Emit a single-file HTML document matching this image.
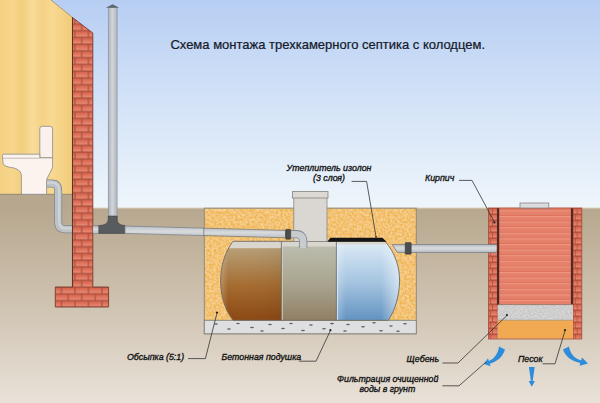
<!DOCTYPE html>
<html lang="ru">
<head>
<meta charset="utf-8">
<title>Схема монтажа трехкамерного септика с колодцем</title>
<style>
html,body{margin:0;padding:0;background:#e8e1d8;}
body{width:600px;height:403px;overflow:hidden;}
svg{display:block;}
text{font-family:"Liberation Sans",sans-serif;}
.title{font-size:13px;fill:#141a2a;stroke:#141a2a;stroke-width:0.22px;}
.lbl{font-size:8.8px;font-style:italic;fill:#151515;stroke:#151515;stroke-width:0.35px;}
.lead{fill:none;stroke:#333;stroke-width:0.8;}
.dot{fill:#222;}
</style>
</head>
<body>
<svg width="600" height="403" viewBox="0 0 600 403">
<defs>
  <linearGradient id="sky" x1="0" y1="0" x2="0" y2="1">
    <stop offset="0" stop-color="#b7cef3"/>
    <stop offset="0.45" stop-color="#d1e1f7"/>
    <stop offset="1" stop-color="#eff6fb"/>
  </linearGradient>
  <linearGradient id="ground" x1="0" y1="0" x2="0" y2="1">
    <stop offset="0" stop-color="#b7a78e"/>
    <stop offset="0.5" stop-color="#cfc3b1"/>
    <stop offset="1" stop-color="#e9e2d9"/>
  </linearGradient>
  <linearGradient id="wood" x1="0" y1="0" x2="1" y2="0">
    <stop offset="0" stop-color="#f4d082"/>
    <stop offset="0.18" stop-color="#f6d68c"/>
    <stop offset="0.3" stop-color="#f3ce7e"/>
    <stop offset="0.45" stop-color="#f8dc98"/>
    <stop offset="0.58" stop-color="#f5d286"/>
    <stop offset="0.72" stop-color="#f7d990"/>
    <stop offset="0.86" stop-color="#f5d286"/>
    <stop offset="1" stop-color="#f2cb7a"/>
  </linearGradient>
  <linearGradient id="pipeV" x1="0" y1="0" x2="1" y2="0">
    <stop offset="0" stop-color="#a9b0bc"/>
    <stop offset="0.45" stop-color="#d3d6d8"/>
    <stop offset="1" stop-color="#b0b6c0"/>
  </linearGradient>
  <linearGradient id="pipeH" x1="0" y1="0" x2="0" y2="1">
    <stop offset="0" stop-color="#bac0c6"/>
    <stop offset="0.45" stop-color="#d8dbde"/>
    <stop offset="1" stop-color="#bbc1c7"/>
  </linearGradient>
  <linearGradient id="ch1" x1="0" y1="0" x2="0" y2="1">
    <stop offset="0" stop-color="#b89f76"/>
    <stop offset="0.5" stop-color="#a56c30"/>
    <stop offset="1" stop-color="#8a4510"/>
  </linearGradient>
  <linearGradient id="ch2" x1="0" y1="0" x2="0" y2="1">
    <stop offset="0" stop-color="#bbbcad"/>
    <stop offset="0.5" stop-color="#a9a48e"/>
    <stop offset="1" stop-color="#8f7d62"/>
  </linearGradient>
  <linearGradient id="ch3" x1="0" y1="0" x2="0" y2="1">
    <stop offset="0" stop-color="#d9e8f5"/>
    <stop offset="0.5" stop-color="#a3c3df"/>
    <stop offset="1" stop-color="#5f90bf"/>
  </linearGradient>
  <linearGradient id="ch3hl" x1="0" y1="0" x2="1" y2="0">
    <stop offset="0" stop-color="#ffffff" stop-opacity="0.25"/>
    <stop offset="0.15" stop-color="#ffffff" stop-opacity="0"/>
    <stop offset="0.7" stop-color="#ffffff" stop-opacity="0"/>
    <stop offset="1" stop-color="#ffffff" stop-opacity="0.55"/>
  </linearGradient>
  <linearGradient id="ch1hl" x1="0" y1="0" x2="1" y2="0">
    <stop offset="0" stop-color="#fff" stop-opacity="0.3"/>
    <stop offset="0.16" stop-color="#fff" stop-opacity="0"/>
    <stop offset="1" stop-color="#000" stop-opacity="0.05"/>
  </linearGradient>
  <linearGradient id="brickG" x1="0" y1="0" x2="0" y2="1">
    <stop offset="0" stop-color="#d5614b"/>
    <stop offset="1" stop-color="#e98b75"/>
  </linearGradient>
  <pattern id="brick" patternUnits="userSpaceOnUse" x="68.2" y="280.25" width="13.5" height="13.5">
    <rect x="0" y="0" width="13.5" height="13.5" fill="#a9503f"/>
    <rect x="0.6" y="0.7" width="12.3" height="5.5" fill="url(#brickG)"/>
    <rect x="-6.15" y="7.45" width="12.3" height="5.5" fill="url(#brickG)"/>
    <rect x="7.35" y="7.45" width="12.3" height="5.5" fill="url(#brickG)"/>
  </pattern>
  <pattern id="wellbrick" patternUnits="userSpaceOnUse" x="488.4" y="208" width="9.2" height="12">
    <rect width="9.2" height="12" fill="#a94a38"/>
    <rect x="0.5" y="0.6" width="3.4" height="4.9" fill="url(#brickG)"/>
    <rect x="4.6" y="0.6" width="4.2" height="4.9" fill="url(#brickG)"/>
    <rect x="0.5" y="6.6" width="1.6" height="4.9" fill="url(#brickG)"/>
    <rect x="2.8" y="6.6" width="6" height="4.9" fill="url(#brickG)"/>
  </pattern>
  <pattern id="wellin" patternUnits="userSpaceOnUse" x="498" y="210.4" width="80" height="5.6">
    <rect width="80" height="5.6" fill="#e5806a"/>
    <rect y="0" width="80" height="1.1" fill="#ee9680"/>
    <rect y="4.6" width="80" height="1" fill="#dd7560"/>
  </pattern>
  <filter id="noise" x="0" y="0" width="1" height="1">
    <feTurbulence type="fractalNoise" baseFrequency="0.42" numOctaves="2" seed="3" result="n"/>
    <feColorMatrix in="n" type="matrix" values="0 0 0 0 0.98  0 0 0 0 0.82  0 0 0 0 0.5  0 0 0 1.1 -0.3" result="c"/>
    <feComposite in="c" in2="SourceGraphic" operator="in" result="cc"/>
    <feMerge><feMergeNode in="SourceGraphic"/><feMergeNode in="cc"/></feMerge>
  </filter>
  <filter id="gnoise" x="0" y="0" width="1" height="1">
    <feTurbulence type="fractalNoise" baseFrequency="0.6" numOctaves="2" seed="8" result="n"/>
    <feColorMatrix in="n" type="matrix" values="0 0 0 0 0.86  0 0 0 0 0.86  0 0 0 0 0.86  0 0 0 1.0 -0.3" result="c"/>
    <feComposite in="c" in2="SourceGraphic" operator="in" result="cc"/>
    <feMerge><feMergeNode in="SourceGraphic"/><feMergeNode in="cc"/></feMerge>
  </filter>
</defs>

<!-- sky & ground -->
<rect x="0" y="0" width="600" height="209" fill="url(#sky)"/>
<rect x="0" y="207.5" width="600" height="195.5" fill="url(#ground)"/>
<rect x="0" y="194" width="73" height="14" fill="#b7a78e"/>
<rect x="93" y="207.2" width="507" height="1.2" fill="#f4f1ea" opacity="0.8"/>

<!-- house wall (wood) -->
<polygon points="0,0 51,0 72.5,17.5 72.5,194.3 0,194.3" fill="url(#wood)"/>
<line x1="51" y1="0" x2="72.5" y2="17.5" stroke="#9c8b66" stroke-width="0.8"/>
<line x1="0" y1="194.3" x2="72.5" y2="194.3" stroke="#8d8370" stroke-width="0.9"/>

<!-- toilet drain pipe (behind brick) -->
<path d="M46.6,183.5 H52 Q58.2,183.5 58.2,191 V222 Q58.2,229.3 66,229.3 H99" fill="none" stroke="#838b91" stroke-width="8"/>
<path d="M46.6,183.5 H52 Q58.2,183.5 58.2,191 V222 Q58.2,229.3 66,229.3 H99" fill="none" stroke="#bcc2c6" stroke-width="6.4"/>
<path d="M46.6,182.6 H52 Q59.2,182.6 59.2,191 V222 Q59.2,228.4 66,228.4 H99" fill="none" stroke="#d3d7d9" stroke-width="2.2" opacity="0.8"/>

<!-- brick foundation wall -->
<polygon points="72.5,17.5 92.8,33 92.8,287 108.6,287 108.6,307 55.3,307 55.3,287 72.5,287" fill="url(#brick)" stroke="#7a3a2c" stroke-width="0.9"/>
<line x1="72.5" y1="17.5" x2="72.5" y2="287" stroke="#5e3424" stroke-width="1.1"/>

<!-- pipe stub right of wall -->
<rect x="93.2" y="226" width="6" height="7.4" fill="url(#pipeH)"/>
<line x1="93.2" y1="225.8" x2="99" y2="225.8" stroke="#868d93" stroke-width="0.8"/>
<line x1="93.2" y1="233.5" x2="99" y2="233.5" stroke="#868d93" stroke-width="0.8"/>

<!-- vent pipe -->
<rect x="108.3" y="7.5" width="8.8" height="212" fill="url(#pipeV)" stroke="#8a92a0" stroke-width="0.7"/>
<polygon points="105.8,7.8 119.2,7.8 112.6,4.3" fill="#5d6672"/>

<!-- tee fitting -->
<path d="M108.2,216 H117.2 V220 Q117.6,225.2 125,225.6 V233.4 H98.8 V225.6 Q107.8,225.2 108.2,220 Z" fill="#595c5f" stroke="#3f4245" stroke-width="0.6"/>

<!-- main pipe to tank -->
<polygon points="125,226 285.5,230.4 285.5,237.8 125,233.4" fill="url(#pipeH)" stroke="#7d8489" stroke-width="0.8"/>

<!-- toilet -->
<path d="M39.8,157.8 V128.8 Q39.8,126.3 42.3,126.3 H50.1 Q52.6,126.3 52.6,128.8 V157.8 Z" fill="#fbf0ec" stroke="#8a8a8a" stroke-width="0.8"/>
<path d="M2.4,155.6 Q2.4,154.2 4,154.2 H39.8 V157.8 H52.6 V167.6 L46.6,179.5 V194.3 H21.4 V176 Q21.4,170 14,168 Q3,166.6 3,163 Z" fill="#fcf3ef" stroke="#8a8a8a" stroke-width="0.8"/>
<path d="M2.6,158.2 H39.8" fill="none" stroke="#a7a09c" stroke-width="0.7"/>

<!-- pit -->
<rect x="204.3" y="208.2" width="212" height="112" fill="#f0b450" filter="url(#noise)"/>
<rect x="204.3" y="208.2" width="212" height="125.6" fill="none" stroke="#8e8a80" stroke-width="1"/>
<!-- main pipe inside pit (redraw over sand) -->
<polygon points="203.8,228.16 285.5,230.4 285.5,237.8 203.8,235.56" fill="url(#pipeH)" stroke="#7d7a6c" stroke-width="0.8"/>
<!-- concrete cushion -->
<rect x="204.3" y="320.3" width="212" height="13.5" fill="#dedfe0" stroke="#85837c" stroke-width="0.9"/>
<g fill="#5f6266">
  <ellipse cx="216" cy="324" rx="2" ry="0.8"/><ellipse cx="229" cy="329" rx="1.9" ry="0.8"/>
  <ellipse cx="238" cy="323.5" rx="1.8" ry="0.75"/><ellipse cx="252" cy="327.5" rx="2" ry="0.8"/>
  <ellipse cx="262" cy="331" rx="1.9" ry="0.7"/><ellipse cx="270" cy="324.5" rx="1.9" ry="0.8"/>
  <ellipse cx="283" cy="328.5" rx="2" ry="0.8"/><ellipse cx="291" cy="323.4" rx="1.8" ry="0.75"/>
  <ellipse cx="303" cy="330.5" rx="2" ry="0.8"/><ellipse cx="311" cy="325" rx="1.9" ry="0.8"/>
  <ellipse cx="324" cy="328.8" rx="1.9" ry="0.8"/><ellipse cx="332" cy="323.6" rx="2" ry="0.8"/>
  <ellipse cx="345" cy="331" rx="1.9" ry="0.8"/><ellipse cx="348" cy="324.5" rx="1.9" ry="0.8"/>
  <ellipse cx="363" cy="326.8" rx="2" ry="0.8"/><ellipse cx="374" cy="322.8" rx="1.9" ry="0.8"/>
  <ellipse cx="381" cy="330.8" rx="2" ry="0.8"/><ellipse cx="391" cy="326" rx="1.9" ry="0.8"/>
  <ellipse cx="398" cy="331.2" rx="1.9" ry="0.8"/><ellipse cx="405" cy="323.8" rx="2" ry="0.8"/>
</g>

<!-- septic tank -->
<clipPath id="tankclip">
  <path d="M233,241.3 H385 C395,252 400,268 399.6,282 C399,297 395,310 388.4,320.3 H233 C225,310 220.6,296 220.6,281 C220.6,266 225,252 233,241.3 Z"/>
</clipPath>
<g clip-path="url(#tankclip)">
  <rect x="218" y="240" width="185" height="82" fill="#d9d6cf"/>
  <rect x="218" y="248.2" width="63.4" height="74" fill="url(#ch1)"/>
  <rect x="218" y="248.2" width="63.4" height="74" fill="url(#ch1hl)"/>
  <rect x="281.4" y="246.5" width="55" height="76" fill="url(#ch2)"/>
  <rect x="336.4" y="244.5" width="68" height="78" fill="url(#ch3)"/>
  <rect x="336.4" y="244.5" width="64" height="78" fill="url(#ch3hl)"/>
  <line x1="281.4" y1="241" x2="281.4" y2="321" stroke="#6f6a5c" stroke-width="0.9"/>
  <line x1="282.4" y1="241" x2="282.4" y2="321" stroke="#d6d3c8" stroke-width="0.8"/>
  <line x1="336.4" y1="241" x2="336.4" y2="321" stroke="#5f6a72" stroke-width="0.9"/>
  <line x1="337.4" y1="241" x2="337.4" y2="321" stroke="#e6eef5" stroke-width="0.8"/>
</g>
<path d="M233,241.3 H385 C395,252 400,268 399.6,282 C399,297 395,310 388.4,320.3 H233 C225,310 220.6,296 220.6,281 C220.6,266 225,252 233,241.3 Z" fill="none" stroke="#6e6a60" stroke-width="0.9"/>

<!-- insulation -->
<polygon points="327.4,241.7 330.4,237.7 382.4,237.7 386.6,241.7" fill="#141414"/>

<!-- neck -->
<rect x="293.8" y="197.6" width="33.2" height="43.8" fill="#dad7d2" stroke="#8a867e" stroke-width="0.8"/>
<rect x="292.4" y="191.6" width="35.6" height="6.4" fill="#dcd8d2" stroke="#86827a" stroke-width="0.8"/>
<!-- inlet elbow -->
<path d="M290.6,234.2 H296.4 Q303.2,234.2 303.2,241.5 V248.2" fill="none" stroke="#80878c" stroke-width="8.2"/>
<path d="M290.6,234.2 H296.4 Q303.2,234.2 303.2,241.5 V248.6" fill="none" stroke="#c8ccce" stroke-width="6.6"/>
<rect x="285.7" y="229.3" width="5" height="10" rx="0.8" fill="#4b4d4f" stroke="#2f3132" stroke-width="0.5"/>

<!-- outlet pipe -->
<path d="M392.2,244.6 H497 V252.4 H397.4 Z" fill="url(#pipeH)" stroke="#747c82" stroke-width="0.8"/>
<rect x="405.2" y="242.6" width="6" height="11.6" rx="0.8" fill="#4b4d4f" stroke="#2f3132" stroke-width="0.5"/>

<!-- well -->
<rect x="488.4" y="208" width="9.2" height="131" fill="url(#wellbrick)"/>
<g transform="translate(84.6,0)"><rect x="488.4" y="208" width="8.8" height="131" fill="url(#wellbrick)"/></g>
<rect x="499" y="208" width="72.5" height="97" fill="url(#wellin)"/>
<rect x="497" y="208" width="2.2" height="97" fill="#4e2a22"/>
<rect x="570.9" y="208" width="2.1" height="97" fill="#4e2a22"/>
<rect x="498" y="304.6" width="75" height="15.6" fill="#c6c6c6" filter="url(#gnoise)"/>
<rect x="498" y="320.2" width="75" height="18.6" fill="#f1aa52"/>
<line x1="498" y1="304.6" x2="573" y2="304.6" stroke="#8a6a5a" stroke-width="0.7"/>
<line x1="498" y1="320.2" x2="573" y2="320.2" stroke="#a08c70" stroke-width="0.6"/>
<rect x="488.4" y="208" width="93.4" height="131" fill="none" stroke="#a5503e" stroke-width="0.8"/>
<!-- pipe end into well -->
<rect x="486" y="244.6" width="10.6" height="7.8" fill="url(#pipeH)"/>
<line x1="486" y1="244.6" x2="496.6" y2="244.6" stroke="#747c82" stroke-width="0.8"/>
<line x1="486" y1="252.4" x2="496.6" y2="252.4" stroke="#747c82" stroke-width="0.8"/>
<!-- lid -->
<rect x="520" y="203" width="28.8" height="5" fill="#dcdcdc" stroke="#86868a" stroke-width="0.8"/>

<!-- blue arrows -->
<g fill="#2d8ddc">
  <path d="M505,349.5 C503,356.5 497.5,361.5 489.8,363.7 L490.6,366.2 L483.8,364 L488,358.2 L488.8,360.9 C494,359 498,354 499,346.5 Z"/>
  <path d="M563,349.5 C565,356 571,361 580.2,363 L579.6,365.8 L588,363.4 L582,357.6 L581.2,360.4 C574.5,358.6 570.4,354 569,346.5 Z"/>
  <path d="M528.9,367 L534.7,367 L532.7,381 L534.9,381 L531.8,386.8 L528.7,381 L530.9,381 Z"/>
</g>

<!-- leader lines -->
<polyline class="lead" points="351.6,181.4 366.6,181.4 376,236.6"/>
<polyline class="lead" points="459,180.4 472,180.4 494.4,222"/>
<polyline class="lead" points="188,358.6 205.4,358.6 217,313"/>
<polyline class="lead" points="299,361.2 316,361.2 330.4,330.6"/>
<polyline class="lead" points="442.4,363 458,363 507,315.4"/>
<polyline class="lead" points="542.6,363.8 555,363.8 565,330.6"/>
<polyline class="lead" points="442.4,385.8 459,385.8 486,362"/>
<circle class="dot" cx="376" cy="236.8" r="0.9"/>
<circle class="dot" cx="494.4" cy="222.4" r="1.1"/>
<circle class="dot" cx="217" cy="312.6" r="1.1"/>
<circle class="dot" cx="330.4" cy="330.2" r="1.1"/>
<circle class="dot" cx="507" cy="315" r="1.1"/>
<circle class="dot" cx="565" cy="330.2" r="1.1"/>

<!-- text -->
<text class="title" x="170.4" y="49">Схема монтажа трехкамерного септика с колодцем.</text>
<text class="lbl" x="286.6" y="170.6">Утеплитель изолон</text>
<text class="lbl" x="313" y="181">(3 слоя)</text>
<text class="lbl" x="425" y="181">Кирпич</text>
<text class="lbl" x="127" y="360">Обсыпка (5:1)</text>
<text class="lbl" x="221.6" y="360">Бетонная подушка</text>
<text class="lbl" x="406.6" y="361.8">Щебень</text>
<text class="lbl" x="518" y="361.8">Песок</text>
<text class="lbl" x="337" y="381.6">Фильтрация очищенной</text>
<text class="lbl" x="359.6" y="392">воды в грунт</text>
</svg>
</body>
</html>
